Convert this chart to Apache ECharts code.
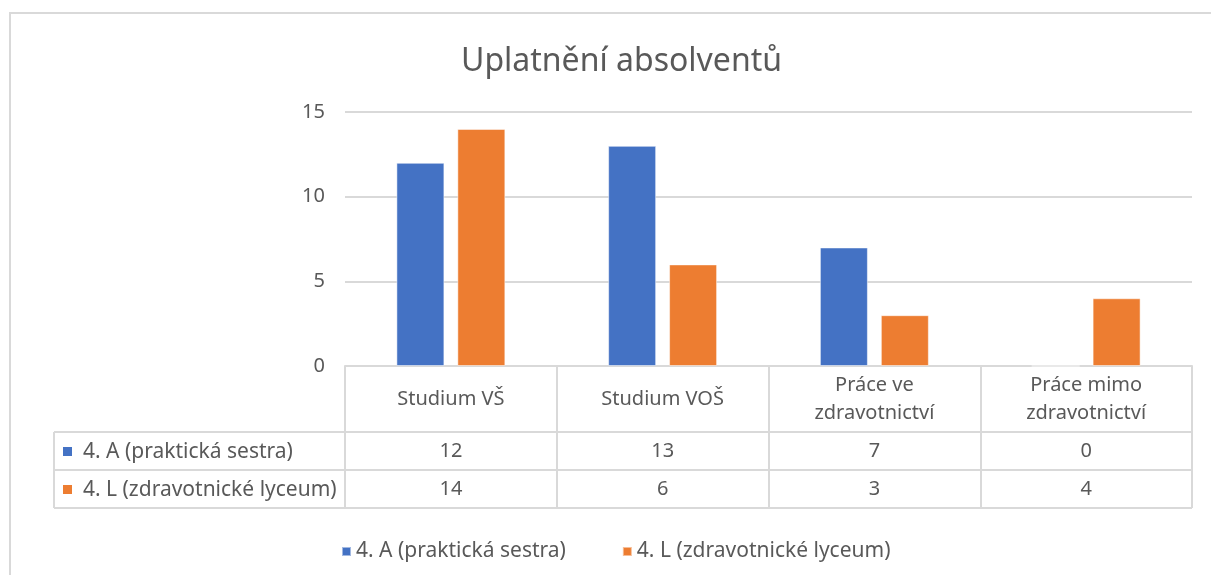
<!DOCTYPE html>
<html>
<head>
<meta charset="utf-8">
<title>Uplatnění absolventů</title>
<script src="https://cdn.jsdelivr.net/npm/echarts@6/dist/echarts.min.js"></script>
<style>
  html, body { margin: 0; padding: 0; background: #fff; }
  #chart { width: 1211px; height: 575px; }
</style>
</head>
<body>
<div id="chart"></div>
<script>
// data
const categories = ['Studium VŠ', 'Studium VOŠ', 'Práce ve\nzdravotnictví', 'Práce mimo\nzdravotnictví'];
const seriesNames = ['4. A (praktická sestra)', '4. L (zdravotnické lyceum)'];
const valuesA = [12, 13, 7, 0];
const valuesL = [14, 6, 3, 4];
const yTicks = { min: 0, max: 15, interval: 5 };

const colors = ['#4472C4', '#ED7D31'];
const txt = '#595959';
const lineCol = '#d9d9d9';
const font = 'Noto Sans';

// table layout (below the plot)
const gridBottomY = 366;
const tableLeft = 54;
const tableRight = 1192;
const rowY = [432, 470, 508];

const mChart = echarts.init(document.getElementById('chart'));

// value rows of the table are drawn as extra category axes on the same grid
function valueAxis(values, margin) {
  return {
    type: 'category',
    gridIndex: 0,
    position: 'bottom',
    data: categories,
    axisLine: {show: false},
    axisTick: {show: false},
    splitLine: {show: false},
    axisLabel: {
      margin: margin,
      verticalAlign: 'middle',
      fontSize: 20,
      fontFamily: font,
      color: txt,
      formatter: (v, i) => String(values[i])
    }
  }
}

const graphics = [
  // outer frame
  {type: 'rect', shape: {x: 10, y: 13, width: 1300, height: 700}, style: {fill: 'none', stroke: lineCol, lineWidth: 2}, silent: true}
];
rowY.forEach(y => {
  graphics.push({type: 'line', shape: {x1: tableLeft, y1: y, x2: tableRight, y2: y}, style: {stroke: lineCol, lineWidth: 2}, silent: true});
});
graphics.push({type: 'line', shape: {x1: tableLeft, y1: rowY[0], x2: tableLeft, y2: rowY[2]}, style: {stroke: lineCol, lineWidth: 2}, silent: true});
seriesNames.forEach((name, i) => {
  const cy = (rowY[i] + rowY[i + 1]) / 2;
  graphics.push({type: 'rect', shape: {x: 63, y: cy - 4, width: 9, height: 9}, style: {fill: colors[i]}, silent: true});
  graphics.push({
    type: 'text', x: 83, y: cy + 1, silent: true,
    style: {text: name, fill: txt, font: '21px "' + font + '"', verticalAlign: 'middle', align: 'left'}
  });
});

const option = {
  animation: false,
  backgroundColor: '#fff',
  color: colors,
  title: {
    text: 'Uplatnění absolventů',
    left: 456,
    top: 41,
    textStyle: {fontSize: 32, fontWeight: 'normal', fontFamily: font, color: txt}
  },
  legend: {
    data: seriesNames,
    left: 336,
    top: 536,
    icon: 'rect',
    itemWidth: 9,
    itemHeight: 9,
    itemGap: 56,
    textStyle: {fontSize: 21, fontFamily: font, color: txt}
  },
  grid: {
    left: 345,
    right: 19,
    top: 112,
    bottom: 575 - gridBottomY,
    containLabel: false
  },
  xAxis: [
    {
      type: 'category',
      data: categories,
      position: 'bottom',
      axisLine: {lineStyle: {color: lineCol, width: 2}},
      axisTick: {show: true, length: rowY[2] - gridBottomY, lineStyle: {color: lineCol, width: 2}},
      axisLabel: {
        margin: 33,
        verticalAlign: 'middle',
        lineHeight: 28,
        fontSize: 20,
        fontFamily: font,
        color: txt,
        interval: 0
      }
    },
    valueAxis(valuesA, 85),
    valueAxis(valuesL, 123)
  ],
  yAxis: {
    type: 'value',
    min: yTicks.min,
    max: yTicks.max,
    interval: yTicks.interval,
    axisLine: {show: false},
    axisTick: {show: false},
    axisLabel: {margin: 20, fontSize: 20, fontFamily: font, color: txt},
    splitLine: {lineStyle: {color: lineCol, width: 2}}
  },
  series: [
    {
      name: seriesNames[0],
      type: 'bar',
      xAxisIndex: 0,
      data: valuesA,
      barWidth: 48,
      barGap: '27%',
      itemStyle: {borderColor: 'rgba(255,255,255,0.5)', borderWidth: 1}
    },
    {
      name: seriesNames[1],
      type: 'bar',
      xAxisIndex: 0,
      data: valuesL,
      barWidth: 48,
      barGap: '27%',
      itemStyle: {borderColor: 'rgba(255,255,255,0.5)', borderWidth: 1}
    }
  ],
  graphic: graphics
};

mChart.setOption(option);
</script>
</body>
</html>
